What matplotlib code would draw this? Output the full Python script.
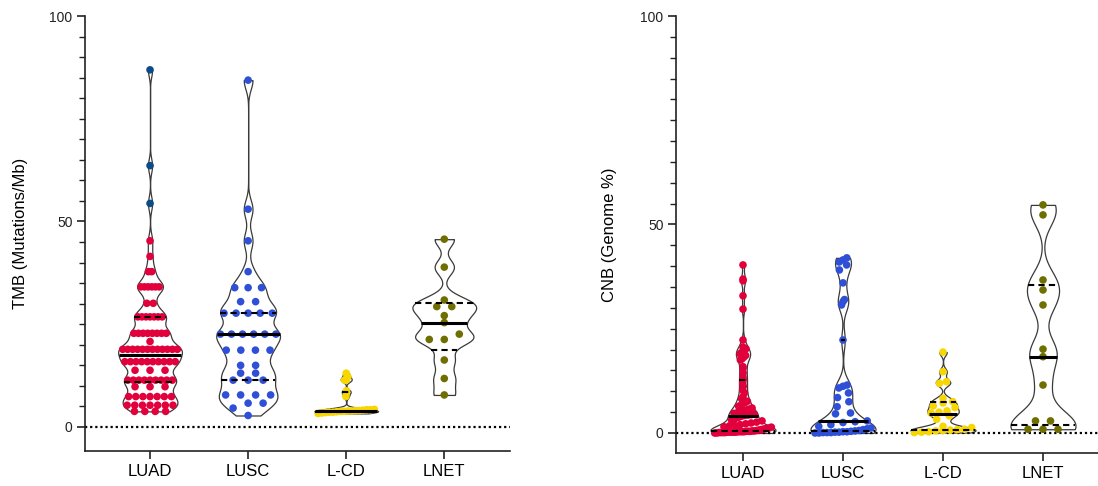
import numpy as np
import matplotlib
matplotlib.use("Agg")
import matplotlib.pyplot as plt
from matplotlib import cbook
from matplotlib.ticker import FixedLocator

plt.rcParams['font.family'] = ['Liberation Sans', 'DejaVu Sans']

# ---------------- data ----------------
categories = ['LUAD', 'LUSC', 'L-CD', 'LNET']
colors = ['#E2003C', '#2F50D6', '#F8D600', '#6F6E00']
high_color = '#0B4C86'

# TMB (Mutations/Mb)
tmb_luad_high = [86.9, 63.6, 54.4]
tmb_luad = [45.3, 41.5, 37.8, 37.8,
            34.1, 34.1, 34.1, 34.1, 34.1, 34.1,
            30.1, 30.1,
            26.8, 26.8, 26.8, 26.8, 26.8, 26.8, 26.8,
            22.8, 22.8, 22.8, 22.8, 22.8, 22.8, 22.8, 22.8,
            20.8,
            18.9, 18.9, 18.9, 18.9, 18.9, 18.9, 18.9, 18.9, 18.9, 18.9, 18.9, 18.9,
            15.9, 15.9, 15.9, 15.9, 15.9, 15.9, 15.9, 15.9, 15.9, 15.9,
            13.8, 13.8, 13.8,
            11.4, 11.4, 11.4, 11.4, 11.4, 11.4, 11.4, 11.4, 11.4,
            9.8, 9.8, 9.8,
            7.4, 7.4, 7.4, 7.4, 7.4, 7.4, 7.4,
            5.3, 5.3, 5.3, 5.3, 5.3, 5.3, 5.3,
            3.8, 3.8, 3.8, 3.8]
tmb_lusc = [84.4, 53.0, 45.3, 37.8, 33.9, 33.9, 33.9, 30.5, 30.5,
            27.7, 27.7, 27.7, 27.7, 27.7,
            22.6, 22.6, 22.6, 22.6, 22.6, 22.6,
            18.7, 18.7, 18.7, 18.7, 15.0, 15.0, 13.1, 13.1,
            11.4, 11.4, 11.4, 7.8, 7.8, 7.8, 7.8, 5.8, 5.8, 4.6, 2.8]
tmb_lcd = [13.1, 12.2, 11.4, 11.4, 8.8, 8.4, 7.4,
           4.3, 4.2, 4.2, 4.1, 4.0, 4.0, 3.9, 3.9, 3.8, 3.8, 3.7, 3.6, 3.6, 3.5, 3.4, 3.3]
tmb_lnet = [45.7, 38.9, 30.9, 29.3, 29.3, 27.1, 25.4, 22.6, 21.3, 21.3, 16.3, 11.8, 7.8]

# CNB (Genome %)
cnb_luad = [40.3, 36.9, 36.5, 32.9, 29.7, 22.3, 20.6, 20.2, 19.8, 19.4, 19.0, 18.6, 18.2,
            17.8, 17.5, 15.9, 15.5, 14.4, 13.5, 12.8,
            12.0, 11.2, 10.3, 9.6, 8.7, 8.2, 7.6, 7.2, 6.8, 6.4, 6.0, 5.7, 5.4, 5.1, 4.9,
            4.7, 4.5, 4.4, 4.3, 4.2,
            4.0, 3.7, 3.4, 3.1, 2.9, 2.6, 2.4, 2.2, 2.0, 1.8, 1.7, 1.5, 1.4, 1.2, 1.1,
            1.0, 0.9, 0.8, 0.7, 0.6,
            0.5, 0.5, 0.4, 0.4, 0.4, 0.3, 0.3, 0.3, 0.3, 0.2, 0.2, 0.2, 0.2, 0.2,
            0.1, 0.1, 0.1, 0.1, 0.0, 0.0]
cnb_lusc = [42.0, 41.5, 41.0, 40.3, 39.1, 36.0, 32.0, 31.5, 30.7, 22.3,
            11.5, 11.2, 10.8, 9.6, 8.5, 7.5, 6.3, 4.8, 4.6,
            2.9, 2.7, 2.5, 2.0, 1.6, 1.2, 1.0, 0.8, 0.6, 0.5,
            0.4, 0.3, 0.3, 0.2, 0.2, 0.1, 0.1, 0.1, 0.0, 0.0]
cnb_lcd = [19.4, 14.7, 12.3, 11.9, 8.3, 7.5, 7.2, 6.5, 6.1, 5.3, 5.0, 4.8, 4.1, 3.3,
           1.6, 1.3, 0.9, 0.8, 0.7, 0.6, 0.5, 0.3, 0.2, 0.1]
cnb_lnet = [54.7, 52.3, 36.7, 34.3, 30.7, 20.1, 18.3, 11.5, 2.9, 2.9, 0.9, 0.9, 0.9]

y_ticks = [0, 50, 100]
BW_SCALE = 0.30
VIOLIN_W = 0.65


def kde_method(X, coords):
    X = np.asarray(X, float)
    n = len(X)
    bw = BW_SCALE * X.std(ddof=1) * n ** (-0.2)
    z = (np.asarray(coords)[:, None] - X[None, :]) / bw
    return np.exp(-0.5 * z ** 2).sum(1) / (n * bw * np.sqrt(2 * np.pi))


def row_layout(ax, vals, pos, hw_fn, diam_px=7.5, sp_max=15.0, row_px=6.0):
    vals = np.asarray(vals, float)
    T = ax.transData
    p0 = T.transform((0, 0))
    px_x = T.transform((1, 0))[0] - p0[0]
    px_y = T.transform((0, 1))[1] - p0[1]
    order = np.argsort(vals, kind='stable')
    xs = np.zeros(len(vals))
    rows, cur = [], [order[0]]
    for i in order[1:]:
        if (vals[i] - vals[cur[0]]) * px_y < row_px:
            cur.append(i)
        else:
            rows.append(cur)
            cur = [i]
    rows.append(cur)
    for r in rows:
        n = len(r)
        if n == 1:
            continue
        ym = vals[r].mean()
        avail = max(2 * hw_fn(ym) * px_x - diam_px, 0)
        sp = min(sp_max, avail / (n - 1))
        for k, i in enumerate(r):
            xs[i] = (k - (n - 1) / 2) * sp / px_x
    return pos + xs


def panel(ax, groups, point_groups, ylabel, ylim, xlim, label_x):
    ax.set_xlim(*xlim)
    ax.set_ylim(*ylim)
    positions = np.arange(1, len(groups) + 1)
    stats = cbook.violin_stats([np.asarray(g, float) for g in groups], kde_method, points=500)
    parts = ax.violin(stats, positions=positions, widths=VIOLIN_W,
                      showmeans=False, showextrema=False, showmedians=False)
    for b in parts['bodies']:
        b.set_facecolor('white')
        b.set_edgecolor('#3a3a3a')
        b.set_linewidth(0.9)
        b.set_alpha(1)
        b.set_zorder(1)

    ax.axhline(0, color='black', lw=1.6, ls=(0, (1, 1.3)), zorder=2)

    for pos, st, g, pts in zip(positions, stats, groups, point_groups):
        coords, dens = st['coords'], st['vals']
        mx = dens.max()

        def hw(y, coords=coords, dens=dens, mx=mx):
            return 0.5 * VIOLIN_W * np.interp(y, coords, dens) / mx

        allv = np.asarray(g, float)
        xs_all = row_layout(ax, allv, pos, hw)
        start = 0
        for vals, col in pts:
            n = len(vals)
            ax.scatter(xs_all[start:start + n], allv[start:start + n], s=30,
                       color=col, edgecolors='none', zorder=3)
            start += n
        q1, med, q3 = np.percentile(allv, [25, 50, 75], method='weibull')
        ax.hlines(med, pos - hw(med), pos + hw(med), color='black', lw=2.2, zorder=4)
        for q in (q1, q3):
            ax.hlines(q, pos - hw(q), pos + hw(q), color='black', lw=1.5,
                      linestyles=(0, (3, 2)), zorder=4)

    for s in ('top', 'right'):
        ax.spines[s].set_visible(False)
    for s in ('left', 'bottom'):
        ax.spines[s].set_color('#222222')
        ax.spines[s].set_linewidth(1.2)
    ax.set_yticks(y_ticks)
    ax.yaxis.set_minor_locator(FixedLocator([v for v in range(5, 100, 5) if v % 50]))
    ax.tick_params(axis='y', which='major', length=6, width=1.2, labelsize=10,
                   colors='#222222', pad=3)
    ax.tick_params(axis='y', which='minor', length=4, width=1.0, color='#222222')
    ax.set_xticks(positions)
    ax.set_xticklabels(categories)
    ax.tick_params(axis='x', length=6, width=1.2, labelsize=12, pad=3,
                   color='#222222', labelcolor='black')
    ax.set_ylabel(ylabel, fontsize=12)
    ax.yaxis.set_label_coords(label_x, 0.5)


fig = plt.figure(figsize=(10.98, 4.86), dpi=100)
W, H = 1098, 486
ax1 = fig.add_axes([85 / W, 1 - 451 / H, 425 / W, 435 / H])
ax2 = fig.add_axes([676 / W, 1 - 453 / H, 422 / W, 437 / H])

tmb_groups = [tmb_luad + tmb_luad_high, tmb_lusc, tmb_lcd, tmb_lnet]
tmb_points = [[(tmb_luad, colors[0]), (tmb_luad_high, high_color)],
              [(tmb_lusc, colors[1])], [(tmb_lcd, colors[2])], [(tmb_lnet, colors[3])]]
panel(ax1, tmb_groups, tmb_points, 'TMB (Mutations/Mb)', (-5.84, 100), (0.337, 4.67), -0.135)

cnb_groups = [cnb_luad, cnb_lusc, cnb_lcd, cnb_lnet]
cnb_points = [[(cnb_luad, colors[0])], [(cnb_lusc, colors[1])],
              [(cnb_lcd, colors[2])], [(cnb_lnet, colors[3])]]
panel(ax2, cnb_groups, cnb_points, 'CNB (Genome %)', (-4.8, 100), (0.33, 4.55), -0.14)

fig.savefig('out.png', dpi=100)
